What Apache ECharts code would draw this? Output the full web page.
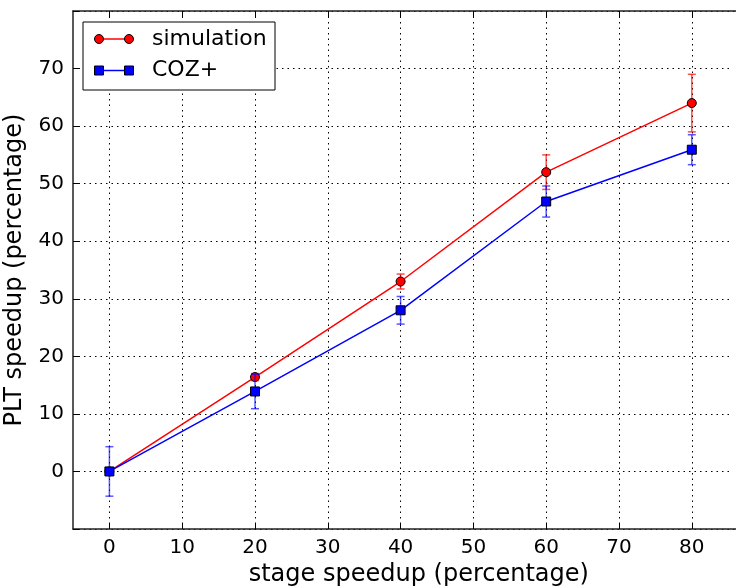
<!DOCTYPE html>
<html>
<head>
<meta charset="utf-8">
<script src="https://cdn.jsdelivr.net/npm/echarts@6/dist/echarts.min.js"></script>
<style>html,body{margin:0;padding:0;background:#fff;}#c{width:736px;height:586px;}</style>
</head>
<body>
<div id="c"></div>
<script>
// ---- data ----
const xValues = [0, 20, 40, 60, 80];
const seriesNames = ['simulation', 'COZ+'];
const simulation = [0, 16.4, 33.0, 52.0, 64.0];
const simulationErr = [0, 0.6, 1.3, 3.0, 5.0];
const coz = [0, 13.9, 28.0, 46.9, 55.9];
const cozErr = [4.3, 3.0, 2.4, 2.7, 2.6];
const xTickLabels = [0, 10, 20, 30, 40, 50, 60, 70, 80];
const yTickLabels = [0, 10, 20, 30, 40, 50, 60, 70];
const xLabel = 'stage speedup (percentage)';
const yLabel = 'PLT speedup (percentage)';

// ---- style ----
const FONT = 'DejaVu Sans';
const colors = ['#ff0000', '#0000ff'];
const errColors = ['rgba(255,0,0,0.7)', 'rgba(0,0,255,0.65)'];
const symbols = ['circle', 'rect'];
const symbolSizes = [9, 9];

const chart = echarts.init(document.getElementById('c'), null, {renderer: 'canvas'});

function errData(vals, errs) {
  return xValues.map((x, i) => [x, vals[i] - errs[i], vals[i] + errs[i]]);
}
function errRender(color) {
  return function (params, api) {
    const x = api.value(0), lo = api.value(1), hi = api.value(2);
    if (hi - lo <= 0) return {type: 'group', children: []};
    const p1 = api.coord([x, hi]);
    const p2 = api.coord([x, lo]);
    const w = 4;
    const st = {stroke: color, lineWidth: 1.5};
    return {
      type: 'group',
      children: [
        {type: 'line', shape: {x1: p1[0], y1: p1[1], x2: p2[0], y2: p2[1]}, style: st},
        {type: 'line', shape: {x1: p1[0] - w, y1: p1[1], x2: p1[0] + w, y2: p1[1]}, style: st},
        {type: 'line', shape: {x1: p2[0] - w, y1: p2[1], x2: p2[0] + w, y2: p2[1]}, style: st}
      ]
    };
  };
}

const valueSets = [simulation, coz];
const errSets = [simulationErr, cozErr];
const series = [];
valueSets.forEach((vals, k) => {
  series.push({
    type: 'custom',
    name: seriesNames[k] + ' err',
    renderItem: errRender(errColors[k]),
    data: errData(vals, errSets[k]),
    encode: {x: 0, y: [1, 2]},
    z: 2 + k * 2,
    silent: true
  });
  series.push({
    type: 'line',
    name: seriesNames[k],
    data: xValues.map((x, i) => [x, vals[i]]),
    symbol: symbols[k],
    symbolSize: symbolSizes[k],
    showAllSymbol: true,
    lineStyle: {color: colors[k], width: 1.5},
    itemStyle: {color: colors[k], borderColor: '#000', borderWidth: 1},
    z: 3 + k * 2,
    animation: false
  });
});

// legend drawn as graphic
const legX = 83, legY = 22, legW = 192, legH = 68;
const legend = [{
  type: 'rect', shape: {x: 732, y: 12, width: 4, height: 516},
  style: {fill: '#fff'}, z: 99, silent: true
}, {
  type: 'rect', shape: {x: legX, y: legY, width: legW, height: legH},
  style: {fill: '#fff', stroke: '#000', lineWidth: 1}, z: 100
}];
seriesNames.forEach((name, k) => {
  const y = 39 + k * 31.5;
  legend.push({type: 'line', shape: {x1: 99, y1: y, x2: 129, y2: y},
    style: {stroke: colors[k], lineWidth: 1.5}, z: 101});
  [99, 129].forEach(cx => {
    if (symbols[k] === 'circle') {
      legend.push({type: 'circle', shape: {cx: cx, cy: y, r: 4.5},
        style: {fill: colors[k], stroke: '#000', lineWidth: 1}, z: 102});
    } else {
      legend.push({type: 'rect', shape: {x: cx - 4.5, y: y - 4.5, width: 9, height: 9},
        style: {fill: colors[k], stroke: '#000', lineWidth: 1}, z: 102});
    }
  });
  legend.push({type: 'text', x: 152, y: y,
    style: {text: name, fill: '#000', font: '22px "DejaVu Sans"', verticalAlign: 'middle', textAlign: 'left'}, z: 103});
});

const option = {
  animation: false,
  backgroundColor: '#fff',
  textStyle: {fontFamily: FONT},
  grid: {left: 73, top: 11, width: 691.6, height: 518, containLabel: false, outerBoundsMode: 'none'},
  xAxis: [{
    type: 'value', min: -5, max: 90,
    axisLine: {show: true, onZero: false, lineStyle: {color: '#222', width: 1.5}},
    axisTick: {show: true, inside: true, length: 6, customValues: xTickLabels, lineStyle: {color: '#000', width: 1}},
    axisLabel: {
      show: true, margin: 9, fontSize: 20, color: '#000', fontFamily: FONT,
      customValues: xTickLabels
    },
    splitLine: {show: true, lineStyle: {color: '#000', width: 1, type: [1.5, 4]}},
    name: xLabel, nameLocation: 'middle', nameGap: 30,
    nameTextStyle: {fontSize: 24, color: '#000', fontFamily: FONT}
  }, {
    type: 'value', position: 'top', min: -5, max: 90,
    axisLine: {show: true, onZero: false, lineStyle: {color: '#222', width: 1.5}},
    axisTick: {show: true, inside: true, length: 6, customValues: xTickLabels, lineStyle: {color: '#000', width: 1}},
    axisLabel: {show: false, customValues: xTickLabels},
    splitLine: {show: false}
  }],
  yAxis: {
    type: 'value', min: -10, max: 80, interval: 10,
    axisLine: {show: true, onZero: false, lineStyle: {color: '#222', width: 1.5}},
    axisTick: {show: true, inside: true, length: 6, lineStyle: {color: '#000', width: 1}},
    axisLabel: {
      show: true, margin: 9, fontSize: 20, color: '#000', fontFamily: FONT,
      formatter: v => (yTickLabels.indexOf(v) >= 0 ? String(v) : '')
    },
    splitLine: {show: true, lineStyle: {color: '#000', width: 1, type: [1.5, 4]}},
    name: yLabel, nameLocation: 'middle', nameGap: 46, nameRotate: 90,
    nameTextStyle: {fontSize: 24, color: '#000', fontFamily: FONT}
  },
  series: series,
  graphic: legend
};
chart.setOption(option);
</script>
</body>
</html>
